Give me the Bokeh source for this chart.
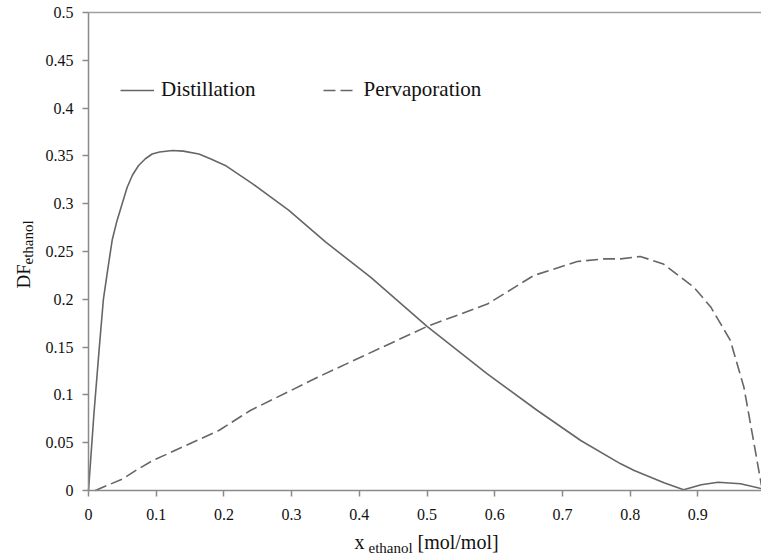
import math
from bokeh.plotting import figure
from bokeh.models import Range1d, FixedTicker, Label, LinearAxis
from bokeh.embed import file_html
from bokeh.resources import INLINE

# ---- data ----
dist_x = [0.0, 0.008, 0.016, 0.022, 0.029, 0.035, 0.042, 0.057, 0.065, 0.074,
          0.084, 0.094, 0.105, 0.124, 0.140, 0.163, 0.180, 0.202, 0.242, 0.296,
          0.350, 0.417, 0.500, 0.589, 0.663, 0.727, 0.786, 0.806, 0.850, 0.879,
          0.905, 0.930, 0.963, 0.994]
dist_y = [0.0, 0.080, 0.150, 0.200, 0.234, 0.262, 0.282, 0.317, 0.330, 0.340,
          0.347, 0.352, 0.354, 0.3556, 0.355, 0.352, 0.347, 0.340, 0.321, 0.293,
          0.260, 0.223, 0.1716, 0.122, 0.0837, 0.0523, 0.0279, 0.0209, 0.008, 0.0007,
          0.006, 0.0087, 0.007, 0.002]

perv_x = [0.010, 0.030, 0.050, 0.070, 0.094, 0.1925, 0.239, 0.343, 0.500, 0.589,
          0.658, 0.722, 0.761, 0.786, 0.815, 0.849, 0.894, 0.919, 0.948, 0.968,
          0.983, 0.994]
perv_y = [0.0, 0.006, 0.012, 0.021, 0.031, 0.0628, 0.0837, 0.120, 0.1716, 0.195,
          0.225, 0.2395, 0.2423, 0.2423, 0.2448, 0.237, 0.2127, 0.192, 0.157, 0.108,
          0.049, 0.005]

x_ticks = [0.0, 0.1, 0.2, 0.3, 0.4, 0.5, 0.6, 0.7, 0.8, 0.9]
x_tick_labels = ["0", "0.1", "0.2", "0.3", "0.4", "0.5", "0.6", "0.7", "0.8", "0.9"]
y_ticks = [0.0, 0.05, 0.1, 0.15, 0.2, 0.25, 0.3, 0.35, 0.4, 0.45, 0.5]
y_tick_labels = ["0", "0.05", "0.1", "0.15", "0.2", "0.25", "0.3", "0.35", "0.4", "0.45", "0.5"]

series_names = ["Distillation", "Pervaporation"]

FONT = "Liberation Serif"
LINE_COLOR = "#666666"
AXIS_COLOR = "#8a8a8a"
TEXT_COLOR = "#111111"

# ---- layout: frame covers the whole canvas; axes are pinned at data 0 ----
W, H = 761, 554
X_END, Y_END = 0.994, 0.5
LEFT_PX, BOTTOM_PX, TOP_PX = 88, 64, 12
kx = (W - LEFT_PX) / X_END
ky = (H - BOTTOM_PX - TOP_PX) / Y_END
x_range = Range1d(-LEFT_PX / kx, X_END)
y_range = Range1d(-BOTTOM_PX / ky, Y_END + TOP_PX / ky)

p = figure(width=W, height=H, output_backend="svg", toolbar_location=None,
           x_range=x_range, y_range=y_range,
           min_border_left=0, min_border_right=0, min_border_top=0, min_border_bottom=0)
p.outline_line_color = None
p.xgrid.grid_line_color = None
p.ygrid.grid_line_color = None
p.background_fill_color = "white"
p.border_fill_color = "white"

p.line(dist_x, dist_y, line_color=LINE_COLOR, line_width=1.6, legend_label=series_names[0])
p.line(perv_x, perv_y, line_color=LINE_COLOR, line_width=1.6, line_dash="12 5",
       legend_label=series_names[1])

for ax, ticks, labels, standoff, bnds in ((p.xaxis, x_ticks, x_tick_labels, 12, (0, X_END)),
                                          (p.yaxis, y_ticks, y_tick_labels, 9, (0, Y_END))):
    ax.fixed_location = 0
    ax.bounds = bnds
    ax.ticker = FixedTicker(ticks=ticks)
    ax.major_label_overrides = {t: l for t, l in zip(ticks, labels)}
    ax.axis_line_color = AXIS_COLOR
    ax.axis_line_width = 1.5
    ax.major_tick_line_color = AXIS_COLOR
    ax.major_tick_line_width = 1.5
    ax.major_tick_out = 6
    ax.major_tick_in = 0
    ax.minor_tick_line_color = None
    ax.major_label_text_font = FONT
    ax.major_label_text_font_size = "16px"
    ax.major_label_text_color = TEXT_COLOR
    ax.major_label_standoff = standoff

# top border line at y = 0.5
top = LinearAxis(fixed_location=Y_END, bounds=(0, X_END), ticker=FixedTicker(ticks=[]),
                 axis_line_color="#a0a0a0", axis_line_width=1.5,
                 major_tick_line_color=None, minor_tick_line_color=None,
                 major_label_text_font_size="0px")
p.add_layout(top, "above")

# legend
lg = p.legend[0]
lg.orientation = "horizontal"
lg.location = (120, H - 102)
lg.border_line_color = None
lg.background_fill_alpha = 0
lg.padding = 0
lg.margin = 0
lg.spacing = 67
lg.glyph_width = 34
lg.glyph_height = 20
lg.label_height = 20
lg.label_standoff = 7
lg.label_text_font = FONT
lg.label_text_font_size = "21px"
lg.label_text_color = TEXT_COLOR

# axis titles (with subscripts), positions in screen px from the canvas top-left
def lab(text, x, y, size, angle=0.0):
    p.add_layout(Label(x=x, y=H - y, x_units="screen", y_units="screen", text=text,
                       text_font=FONT, text_font_size=size, text_color=TEXT_COLOR,
                       text_align="left", text_baseline="alphabetic", angle=angle))

lab("x", 354, 541, "20px")
lab("ethanol", 368, 547, "15px")
lab("[mol/mol]", 417, 541, "20px")

lab("DF", 23, 288, "19px", math.pi / 2)
lab("ethanol", 27, 264, "15px", math.pi / 2)

open("out.html", "w").write(file_html(p, INLINE))
